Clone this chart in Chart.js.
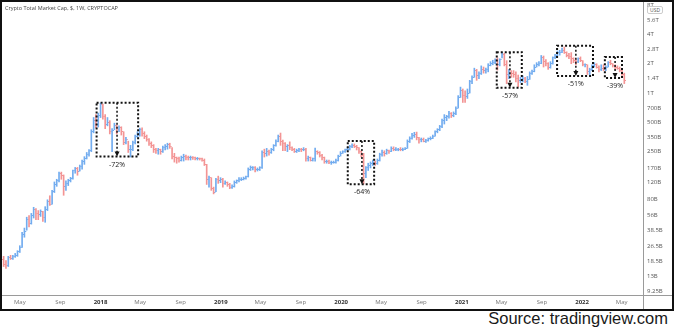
<!DOCTYPE html>
<html>
<head>
<meta charset="utf-8">
<script src="https://cdn.jsdelivr.net/npm/chart.js@4.4.1/dist/chart.umd.min.js"></script>
<style>
  html, body { margin: 0; padding: 0; background: #fff; }
  body { width: 675px; height: 331px; position: relative; overflow: hidden; font-family: "Open Sans", sans-serif; }
  #frame { position: absolute; left: 0; top: 0; width: 674px; height: 311px; border: 2px solid #111; box-sizing: border-box; }
  #chart { position: absolute; left: 2px; top: 2px; }
  #title { position: absolute; left: 5px; top: 4px; font-size: 5.5px; color: #444; white-space: nowrap; }
  #usd { position: absolute; left: 647px; top: 6px; font-size: 5px; line-height: 6px; padding: 0 2px; color: #555;
         border: 1px solid #ccc; border-radius: 2px; background: #fff; }
  #source { position: absolute; right: 7px; top: 309px; font: 16.5px "Liberation Sans", Arial, sans-serif; color: #1a1a1a; white-space: nowrap; }
</style>
</head>
<body>
<div id="frame"></div>
<canvas id="chart" width="670" height="307"></canvas>
<div id="title">Crypto Total Market Cap, $, 1W, CRYPTOCAP</div>
<div id="usd">USD</div>
<div id="source">Source: tradingview.com</div>
<script>
// weekly bars, values in billions of USD; each week opens at the previous close
const weekStart = "2017-03-13";
const firstOpen = 19.5;

const closes = [
  // 2017
  17.5, 17, 20.5, 20, 21, 21.5, 23.5, 26, 35, 38, 50, 46, 55, 63, 58, 57, 60, 53, 64, 76,
  72, 98, 115, 125, 150, 142, 110, 118, 125, 132, 160, 168, 158, 175, 200, 210, 235, 255, 400, 520,
  480, 590,
  // 2018
  760, 570, 470, 500, 400, 410, 460, 420, 440, 400, 310, 330, 260, 265, 310, 360, 380, 420, 380, 360,
  330, 300, 290, 260, 255, 260, 250, 275, 285, 295, 280, 225, 215, 210, 205, 215, 225, 220, 215, 220,
  215, 210, 212, 210, 205, 185, 130, 135, 105, 96, 128, 125,
  // 2019
  130, 118, 120, 115, 108, 110, 120, 125, 128, 130, 133, 138, 165, 170, 170, 162, 165, 170, 245, 240,
  250, 245, 260, 290, 320, 360, 320, 300, 280, 290, 275, 262, 250, 255, 265, 260, 265, 210, 215, 205,
  210, 250, 245, 230, 215, 200, 200, 195, 195, 195,
  // 2020
  205, 225, 240, 250, 260, 265, 280, 290, 285, 275, 250, 230, 150, 170, 180, 190, 195, 190, 205, 235,
  245, 240, 255, 250, 270, 265, 265, 265, 260, 265, 270, 320, 340, 365, 375, 350, 330, 335, 320, 325,
  340, 345, 360, 400, 420, 450, 520, 560, 570, 620, 590, 620, 700, 900,
  // 2021
  1050, 950, 920, 1000, 1300, 1450, 1700, 1500, 1600, 1750, 1700, 1750, 1900, 2000, 2050, 2200, 1950, 2200, 2500, 1950,
  1550, 1600, 1580, 1550, 1400, 1350, 1380, 1400, 1320, 1380, 1600, 1650, 1850, 1950, 2000, 2300, 2100, 2000, 1850, 2000,
  2300, 2450, 2600, 2600, 2750, 2600, 2450, 2400, 2250, 2150, 2100, 2250, 2150,
  // 2022
  1950, 1950, 1650, 1760, 1900, 1950, 1850, 1750, 1800, 1750, 1850, 2050, 2000, 1900, 1850, 1800, 1700, 1550, 1350
];

const highs = [
  21, 19, 21, 21.5, 21.5, 22.5, 24, 27, 37, 41, 53, 55, 58, 67, 65, 62, 63, 61, 68, 80,
  88, 100, 122, 130, 154, 154, 144, 125, 130, 136, 162, 172, 172, 182, 205, 222, 245, 262, 420, 560,
  600, 622,
  790, 770, 600, 560, 520, 430, 490, 470, 460, 450, 400, 350, 320, 290, 320, 370, 400, 436, 440, 400,
  370, 340, 315, 295, 270, 270, 265, 285, 295, 305, 305, 275, 240, 220, 220, 225, 235, 230, 225, 225,
  222, 220, 218, 215, 215, 210, 185, 140, 135, 108, 133, 140,
  135, 133, 125, 122, 118, 114, 125, 128, 135, 135, 137, 140, 170, 178, 175, 175, 170, 175, 255, 265,
  270, 260, 270, 295, 330, 370, 388, 328, 310, 295, 315, 280, 270, 265, 270, 270, 275, 270, 225, 220,
  215, 272, 255, 250, 235, 220, 205, 205, 200, 200,
  210, 230, 250, 255, 265, 275, 290, 300, 300, 290, 275, 255, 240, 175, 190, 196, 205, 200, 210, 241,
  260, 255, 265, 260, 280, 280, 275, 270, 275, 272, 275, 330, 355, 385, 395, 397, 350, 345, 345, 335,
  345, 355, 370, 410, 430, 465, 540, 600, 590, 650, 630, 640, 720, 940,
  1150, 1100, 1050, 1100, 1350, 1500, 1800, 1750, 1650, 1900, 1850, 1800, 2000, 2100, 2170, 2250, 2300, 2250, 2620, 2560,
  2150, 1750, 1700, 1700, 1650, 1530, 1450, 1500, 1450, 1480, 1650, 1720, 1950, 2050, 2100, 2430, 2400, 2200, 2050, 2100,
  2350, 2500, 2700, 2750, 2900, 2970, 2650, 2550, 2600, 2300, 2200, 2300, 2350,
  2150, 2000, 1950, 1800, 1950, 2050, 2000, 1900, 1950, 1950, 1900, 2100, 2170, 2000, 1950, 1900, 1850, 1750, 1600
];

const lows = [
  16.5, 15.8, 16.5, 19.5, 19.5, 20.5, 21, 23, 26, 33, 39, 42, 45, 52, 50, 50, 54, 48, 47, 62,
  70, 72, 95, 110, 122, 130, 89, 100, 112, 122, 130, 150, 143, 158, 165, 185, 210, 225, 250, 390,
  440, 447,
  560, 540, 430, 460, 380, 250, 420, 380, 400, 370, 295, 300, 245, 220, 255, 300, 350, 360, 360, 340,
  320, 290, 275, 245, 240, 235, 235, 245, 260, 265, 270, 210, 195, 190, 195, 200, 200, 205, 205, 205,
  208, 205, 205, 205, 200, 180, 115, 108, 100, 92, 97, 118,
  120, 108, 115, 110, 104, 105, 108, 118, 122, 126, 128, 130, 137, 160, 162, 155, 158, 160, 168, 220,
  225, 230, 240, 255, 285, 315, 290, 255, 255, 250, 262, 255, 245, 245, 250, 250, 255, 200, 200, 200,
  200, 200, 235, 220, 205, 190, 190, 188, 185, 190,
  190, 200, 225, 240, 245, 255, 260, 275, 275, 260, 240, 220, 116, 135, 160, 170, 180, 180, 185, 200,
  225, 225, 235, 240, 250, 255, 255, 255, 255, 255, 262, 270, 310, 335, 350, 330, 305, 315, 315, 310,
  320, 330, 340, 360, 390, 410, 440, 480, 520, 550, 560, 570, 600, 700,
  900, 800, 800, 880, 1000, 1250, 1450, 1350, 1400, 1550, 1600, 1600, 1650, 1900, 1950, 2000, 1720, 1900, 2300, 1900,
  1250, 1400, 1450, 1450, 1300, 1160, 1280, 1300, 1280, 1200, 1380, 1550, 1650, 1850, 1900, 2000, 1850, 1900, 1750, 1800,
  1980, 2250, 2400, 2450, 2600, 2550, 2350, 2250, 2000, 2050, 1950, 2050, 2100,
  1900, 1850, 1550, 1540, 1700, 1850, 1800, 1650, 1700, 1700, 1700, 1850, 1950, 1850, 1750, 1750, 1650, 1520, 1250
];

// price scale ticks (billions)
const yTicks = [9.25, 13, 18.5, 26.5, 38.5, 56, 80, 120, 170, 250, 350, 500, 700, 1000, 1400, 2000, 2800, 4000, 5600, 8000];

const xTickDates = ["2017-05-01", "2017-09-01", "2018-01-01", "2018-05-01", "2018-09-01", "2019-01-01",
  "2019-05-01", "2019-09-01", "2020-01-01", "2020-05-01", "2020-09-01", "2021-01-01",
  "2021-05-01", "2021-09-01", "2022-01-01", "2022-05-01"];
const xTickLabels = ["May", "Sep", "2018", "May", "Sep", "2019", "May", "Sep", "2020",
  "May", "Sep", "2021", "May", "Sep", "2022", "May"];

// drawdown boxes: span, arrow position, top value and the drop it marks
const boxStarts = ["2017-12-20", "2020-01-21", "2021-04-17", "2021-10-17", "2022-03-11"];
const boxEnds   = ["2018-04-25", "2020-04-10", "2021-07-02", "2022-02-03", "2022-05-02"];
const boxArrows = ["2018-02-20", "2020-03-04", "2021-05-27", "2021-12-13", "2022-04-11"];
const boxTops   = [795, 321, 2630, 3050, 2340];
const boxDrops  = [-72, -64, -57, -51, -39];

const UP = "#72acef";
const DOWN = "#f39494";
const DAY = 864e5;

const t = (s) => Date.parse(s + "T00:00:00Z");
const t0 = t(weekStart);

// little open (left) / close (right) tick sprites for the OHLC bars
function tickSprite(color, right) {
  const c = document.createElement("canvas");
  c.width = 3;
  c.height = 1;
  const g = c.getContext("2d");
  g.fillStyle = color;
  g.fillRect(right ? 2 : 0, 0, 1, 1);
  return c;
}
const sprites = {
  openUp: tickSprite(UP, false), openDown: tickSprite(DOWN, false),
  closeUp: tickSprite(UP, true), closeDown: tickSprite(DOWN, true)
};

const wicks = [], opens = [], closePts = [];
const colors = [], openStyles = [], closeStyles = [];
closes.forEach((c, i) => {
  const o = i === 0 ? firstOpen : closes[i - 1];
  const x = t0 + i * 7 * DAY;
  const up = c >= o;
  wicks.push({ x, y: [lows[i], highs[i]] });
  opens.push({ x, y: o });
  closePts.push({ x, y: c });
  colors.push(up ? UP : DOWN);
  openStyles.push(up ? sprites.openUp : sprites.openDown);
  closeStyles.push(up ? sprites.closeUp : sprites.closeDown);
});

const tickLabel = {};
xTickDates.forEach((d, i) => { tickLabel[t(d)] = xTickLabels[i]; });
const isYear = (c) => /^\d/.test(xTickLabels[c.index] || "");

const fmtPrice = (v) => (v >= 1000 ? (v / 1000) + "T" : v + "B");

// frame lines of the price and time scales
const axisLines = {
  id: "axisLines",
  afterDraw(chart) {
    const { ctx, chartArea, width, height } = chart;
    ctx.save();
    ctx.strokeStyle = "#9a9a9a";
    ctx.lineWidth = 1;
    ctx.beginPath();
    ctx.moveTo(0, Math.round(chartArea.bottom) + 0.5);
    ctx.lineTo(width, Math.round(chartArea.bottom) + 0.5);
    ctx.moveTo(Math.round(chartArea.right) + 0.5, 0);
    ctx.lineTo(Math.round(chartArea.right) + 0.5, height);
    ctx.stroke();
    ctx.restore();
  }
};

// dotted drawdown boxes with arrow and percentage
const drawdowns = {
  id: "drawdowns",
  afterDatasetsDraw(chart) {
    const { ctx } = chart;
    const xs = chart.scales.x, ys = chart.scales.y;
    ctx.save();
    boxStarts.forEach((s, i) => {
      const x1 = xs.getPixelForValue(t(s));
      const x2 = xs.getPixelForValue(t(boxEnds[i]));
      const xa = xs.getPixelForValue(t(boxArrows[i]));
      const top = boxTops[i];
      const bottom = top * (1 + boxDrops[i] / 100);
      const y1 = ys.getPixelForValue(top);
      const y2 = ys.getPixelForValue(bottom);

      ctx.strokeStyle = "#111";
      ctx.lineWidth = 2;
      ctx.setLineDash([2, 2]);
      ctx.strokeRect(x1, y1, x2 - x1, y2 - y1);

      ctx.lineWidth = 1.5;
      ctx.beginPath();
      ctx.moveTo(xa, y1);
      ctx.lineTo(xa, y2 - 4);
      ctx.stroke();
      ctx.setLineDash([]);

      ctx.fillStyle = "#111";
      ctx.beginPath();
      ctx.moveTo(xa - 2.5, y2 - 5);
      ctx.lineTo(xa + 2.5, y2 - 5);
      ctx.lineTo(xa, y2);
      ctx.closePath();
      ctx.fill();

      ctx.fillStyle = "#222";
      ctx.font = '7px "Open Sans", sans-serif';
      ctx.textAlign = "center";
      ctx.textBaseline = "middle";
      ctx.fillText(boxDrops[i] + "%", xa, y2 + 8);
    });
    ctx.restore();
  }
};

new Chart(document.getElementById("chart"), {
  type: "bar",
  data: {
    datasets: [
      { data: wicks, backgroundColor: colors, barThickness: 1, grouped: false, borderWidth: 0 },
      { type: "scatter", data: opens, pointStyle: openStyles, radius: 1, showLine: false },
      { type: "scatter", data: closePts, pointStyle: closeStyles, radius: 1, showLine: false }
    ]
  },
  options: {
    responsive: false,
    animation: false,
    devicePixelRatio: 1,
    layout: { padding: 0, autoPadding: false },
    plugins: { legend: { display: false }, tooltip: { enabled: false } },
    scales: {
      x: {
        type: "linear",
        offset: false,
        min: t("2017-03-08"),
        max: t("2018-01-01") + 1645.7 * DAY,
        grid: { display: false, drawTicks: false, offset: false },
        border: { display: false },
        afterBuildTicks: (s) => { s.ticks = xTickDates.map((d) => ({ value: t(d) })); },
        afterFit: (s) => { s.height = 14; s.paddingLeft = 0; s.paddingRight = 0; },
        ticks: {
          autoSkip: false,
          maxRotation: 0,
          padding: 4,
          callback: (v) => tickLabel[v] || "",
          color: (c) => (isYear(c) ? "#333" : "#777"),
          font: (c) => ({ family: '"Open Sans", sans-serif', size: 6, weight: isYear(c) ? "bold" : "normal" })
        }
      },
      y: {
        type: "logarithmic",
        position: "right",
        min: 8.415,
        max: 8610,
        grid: { display: false, drawTicks: false },
        border: { display: false },
        afterBuildTicks: (s) => { s.ticks = yTicks.map((v) => ({ value: v })); },
        afterFit: (s) => { s.width = 29; s.paddingTop = 0; s.paddingBottom = 0; },
        ticks: {
          autoSkip: false,
          padding: 4,
          callback: (v) => fmtPrice(v),
          color: "#555",
          font: { family: '"Open Sans", sans-serif', size: 6 }
        }
      }
    }
  },
  plugins: [axisLines, drawdowns]
});
</script>
</body>
</html>
